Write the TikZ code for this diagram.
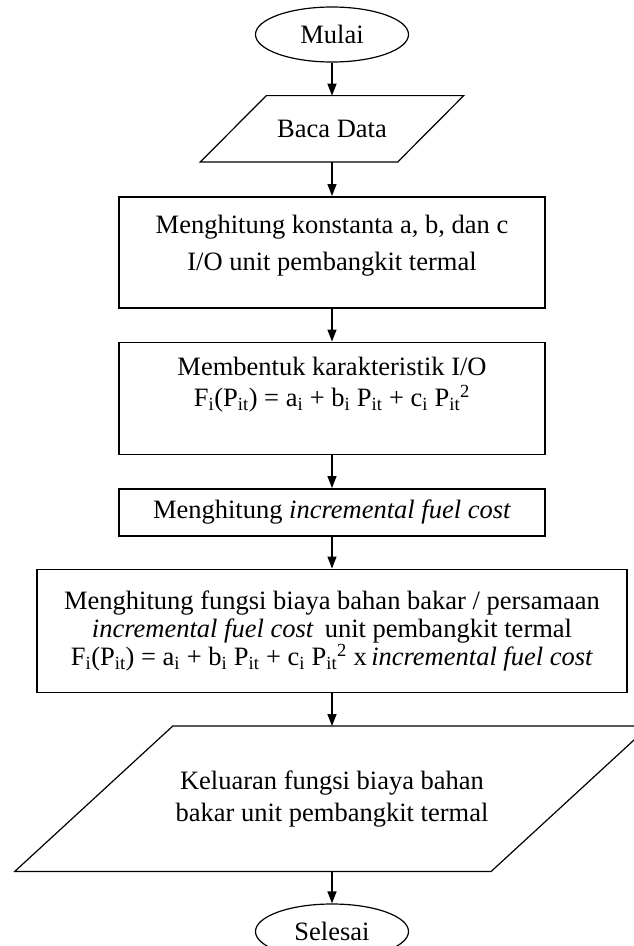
\documentclass[tikz,border=0pt]{standalone}
\usepackage{fontspec}
\setmainfont{Liberation Serif}
\usetikzlibrary{shapes.geometric,arrows.meta}

\newcommand{\sub}[1]{\textsubscript{#1}}

\begin{document}
\begin{tikzpicture}[x=1pt,y=1pt]
	\tikzstyle{term} = [ellipse,draw,line width=1.2pt,minimum width=153pt,minimum height=55pt,inner sep=0pt,font=\fontsize{26.5}{30}\selectfont]
	\tikzstyle{io} = [rectangle,inner sep=0pt,align=center,font=\fontsize{26.5}{32}\selectfont]
	\tikzstyle{proc} = [rectangle,draw,line width=1.5pt,inner sep=0pt,align=center,minimum width=426pt,font=\fontsize{26.5}{37}\selectfont]
	\tikzstyle{flow} = [-{Triangle[length=12pt,width=9pt]},line width=1.5pt]
	
		\useasboundingbox (0,0) rectangle (633,-946);
		
		\node[term] (mulai) at (332,-34.5){Mulai};
		\node[io,minimum width=197pt,minimum height=66pt,anchor=north](baca) at ([yshift=-33pt]mulai.south){Baca Data};
		\node[proc,minimum height=111pt,anchor=north](konst) at ([yshift=-34pt]baca.south){Menghitung konstanta a, b, dan c\\I/O unit pembangkit termal\\[-18pt]\mbox{}};
		\node[proc,minimum height=112pt,anchor=north,font=\fontsize{26.5}{31}\selectfont](karak) at ([yshift=-33pt]konst.south){Membentuk karakteristik I/O\\F\sub{i}(P\sub{it}) = a\sub{i} + b\sub{i} P\sub{it} + c\sub{i} P\sub{it}\textsuperscript{2}\\[2pt]\mbox{}};
		\node[proc,minimum height=47pt,anchor=north](inc) at ([yshift=-33pt]karak.south){Menghitung \textit{incremental fuel cost}};
		\node[proc,minimum width=590pt,minimum height=123pt,anchor=north,font=\fontsize{26.5}{28}\selectfont](fungsi) at ([yshift=-32pt]inc.south){Menghitung fungsi biaya bahan bakar / persamaan\\\textit{incremental fuel cost}\, unit pembangkit termal\\F\sub{i}(P\sub{it}) = a\sub{i} + b\sub{i} P\sub{it} + c\sub{i} P\sub{it}\textsuperscript{2} x\,\textit{incremental fuel cost}};
		\node[io,minimum width=476pt,minimum height=145pt,anchor=north](keluar) at ([yshift=-33pt]fungsi.south){Keluaran fungsi biaya bahan\\bakar unit pembangkit termal};
		\node[term,anchor=north](selesai) at ([yshift=-32pt]keluar.south){Selesai};
		
		% jajaran genjang input / output
		\draw[line width=1.2pt] ([xshift=-33pt]baca.south west) -- ([xshift=-33pt]baca.south east) -- ([xshift=33pt]baca.north east) -- ([xshift=33pt]baca.north west) -- cycle;
		\draw[line width=1.2pt] ([xshift=-79pt]keluar.south west) -- ([xshift=-79pt]keluar.south east) -- ([xshift=79pt]keluar.north east) -- ([xshift=79pt]keluar.north west) -- cycle;
		
		\draw[flow](mulai) -- (baca);
		\draw[flow](baca) -- (konst);
		\draw[flow](konst) -- (karak);
		\draw[flow](karak) -- (inc);
		\draw[flow](inc) -- (fungsi);
		\draw[flow](fungsi) -- (keluar);
		\draw[flow](keluar) -- (selesai);
		
\end{tikzpicture}
\end{document}
